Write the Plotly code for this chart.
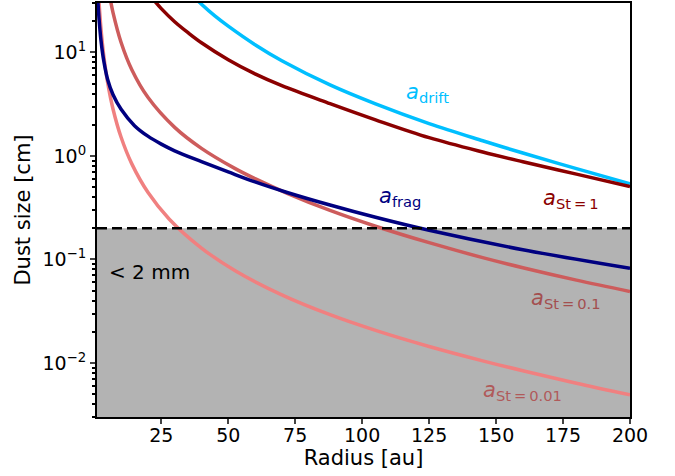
import math
import plotly.graph_objects as go

# ---- data (radius in au, size in cm) ----
r_drift = [36.0, 40.0, 45.0, 50.0, 60.0, 70.0, 88.0, 105.0, 125.0, 145.0, 160.0, 180.0, 200.0]
a_drift = [36.8, 29.2, 22.5, 17.9, 11.85, 8.3, 4.85, 3.18, 2.05, 1.40, 1.065, 0.752, 0.537]

r_st1 = [22.0, 25.0, 30.0, 35.0, 40.0, 50.0, 60.0, 70.0, 88.0, 105.0, 125.0, 145.0, 160.0, 180.0, 200.0]
a_st1 = [32.5, 26.5, 19.8, 15.5, 12.4, 8.5, 6.2, 4.77, 3.2, 2.23, 1.50, 1.09, 0.878, 0.666, 0.505]

r_frag = [1.2, 1.4, 1.8, 2.5, 3.5, 5.0, 7.0, 10.0, 15.0, 20.0, 25.0, 30.0, 40.0, 50.0, 60.0, 72.0, 88.0, 105.0, 125.0, 160.0, 200.0]
a_frag = [37.2, 29.5, 20.5, 12.95, 8.36, 5.45, 3.9, 2.82, 1.96, 1.55, 1.30, 1.12, 0.88, 0.70, 0.56, 0.443, 0.335, 0.255, 0.191, 0.124, 0.082]

r_st01 = [5.5, 6.0, 7.0, 10.0, 14.0, 20.0, 30.0, 40.0, 52.6, 60.0, 72.0, 88.0, 105.0, 125.0, 145.0, 160.0, 180.0, 200.0]
a_st01 = [37.9, 32.2, 24.1, 12.46, 6.80, 3.68, 1.886, 1.183, 0.753, 0.602, 0.435, 0.297, 0.209, 0.145, 0.104, 0.083, 0.063, 0.049]

r_st001 = [1.6, 1.8, 2.5, 3.5, 5.0, 7.0, 10.0, 14.0, 20.0, 28.0, 40.0, 52.6, 70.0, 88.0, 105.0, 125.0, 145.0, 160.0, 180.0, 200.0]
a_st001 = [36.1, 29.5, 16.76, 9.40, 5.07, 2.824, 1.513, 0.837, 0.445, 0.2446, 0.1287, 0.0777, 0.0454, 0.0292, 0.0206, 0.0144, 0.01047, 0.00839, 0.00636, 0.00491]

threshold = 0.2          # 2 mm in cm
x_range = [1.0, 200.0]
y_range = [0.003, 30.0]
x_ticks = [25, 50, 75, 100, 125, 150, 175, 200]
y_ticks = [0.01, 0.1, 1, 10]
y_tick_text = ["10<sup>\u22122</sup>", "10<sup>\u22121</sup>", "10<sup>0</sup>", "10<sup>1</sup>"]

y_minor = [m * 10 ** e for e in range(-3, 2) for m in range(2, 10)
           if y_range[0] <= m * 10 ** e <= y_range[1]]

FONT = "DejaVu Sans"
fig = go.Figure()

# shaded region below 2 mm
y_floor = y_range[0] / 10
fig.add_trace(go.Scatter(
    x=[x_range[0], x_range[1], x_range[1], x_range[0], x_range[0]],
    y=[y_floor, y_floor, threshold, threshold, y_floor],
    fill="toself", fillcolor="#b3b3b3", line=dict(width=0), mode="lines",
    showlegend=False, hoverinfo="skip"))

lw = 3.5
curves = [
    (r_drift, a_drift, "#00bfff"),
    (r_st1, a_st1, "#8b0000"),
    (r_st01, a_st01, "#cd5c5c"),
    (r_st001, a_st001, "#f08080"),
    (r_frag, a_frag, "#000080"),
]
for xs, ys, c in curves:
    fig.add_trace(go.Scatter(x=xs, y=ys, mode="lines",
                             line=dict(color=c, width=lw, shape="spline", smoothing=1.0),
                             showlegend=False))

# dashed threshold line
fig.add_trace(go.Scatter(x=x_range, y=[threshold, threshold], mode="lines",
                         line=dict(color="black", width=2.5, dash="10px,5px"),
                         showlegend=False))

labels = [
    (124.4, 4.05, "drift", "#00bfff"),
    (114.0, 0.40, "frag", "#000080"),
    (177.8, 0.38, "St\u2009=\u20091", "#8b0000"),
    (176.0, 0.041, "St\u2009=\u20090.1", "#a34f4f"),
    (159.7, 0.0054, "St\u2009=\u20090.01", "#b05a5a"),
]
for x, y, sub, c in labels:
    fig.add_annotation(x=x, y=math.log10(y), text="<i>a</i><sub>" + sub + "</sub>",
                       showarrow=False, font=dict(family=FONT, size=21, color=c),
                       xanchor="center", yanchor="middle")

fig.add_annotation(x=4.8, y=math.log10(0.0758), text="&lt; 2 mm", showarrow=False,
                   font=dict(family=FONT, size=20, color="black"),
                   xanchor="left", yanchor="middle")

fig.update_layout(
    width=675, height=476,
    margin=dict(l=97, r=45, t=3, b=59, autoexpand=False),
    paper_bgcolor="white", plot_bgcolor="white",
    font=dict(family=FONT, size=19, color="black"),
)
fig.update_xaxes(
    range=x_range, tickvals=x_ticks, ticks="outside", ticklen=5, tickwidth=2,
    showline=True, linewidth=2, linecolor="black", mirror=True, showgrid=False,
    zeroline=False, automargin=False, ticklabelstandoff=-5,
    title=dict(text="Radius [au]", font=dict(size=21), standoff=2),
    tickfont=dict(size=19),
)
fig.update_yaxes(
    type="log", range=[math.log10(y_range[0]), math.log10(y_range[1])],
    tickvals=y_ticks, ticktext=y_tick_text, ticks="outside", ticklen=5, tickwidth=2,
    minor=dict(tickvals=y_minor, ticks="outside", ticklen=3, tickwidth=1.5, tickcolor="black", showgrid=False),
    showline=True, linewidth=2, linecolor="black", mirror=True, showgrid=False,
    zeroline=False, automargin=False,
    title=dict(text="Dust size [cm]", font=dict(size=21), standoff=6),
    tickfont=dict(size=19),
)

fig.write_html("out.html", config={"displayModeBar": False},
               post_script="document.body.style.margin='0';")
